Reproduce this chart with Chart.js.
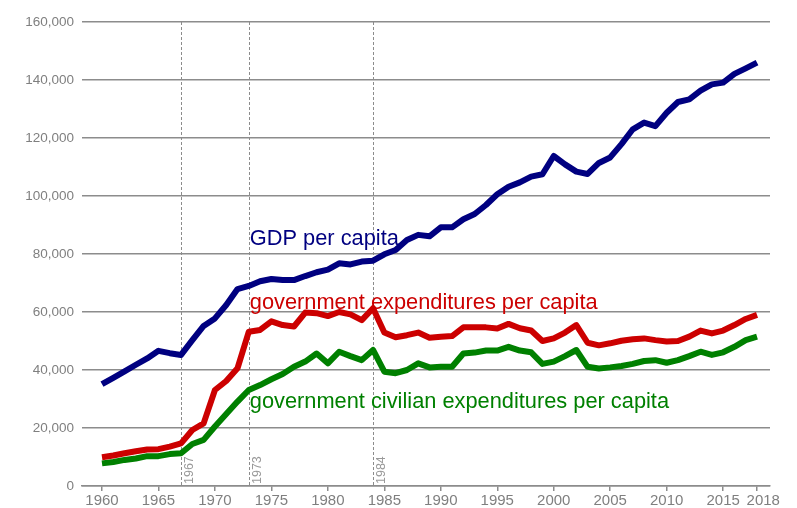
<!doctype html>
<html lang="en">
  <head>
    <meta charset="utf-8">
    <title>GDP and government expenditures per capita</title>
    <style>
      html, body { margin: 0; padding: 0; background: #fff; }
      #wrap { position: relative; width: 797px; height: 508px; }
    </style>
  </head>
  <body>
    <div id="wrap">
      <canvas id="myChart" width="797" height="508"></canvas>
    </div>

    <script src="https://cdn.jsdelivr.net/npm/chart.js"></script>

    <script>
    const years = [];
    for (var yr = 1960; yr <= 2018; yr++) { years.push(yr); }

    const gdp = [
      35100, 37300, 39500, 41800, 44000, 46600, 45800, 45200, 50300, 55200,
      57800, 62400, 67900, 69000, 70600, 71400, 71000, 71000, 72400, 73700,
      74600, 76800, 76400, 77400, 77700, 79900, 81400, 84800, 86600, 86100,
      89200, 89200, 92000, 93800, 96900, 100600, 103200, 104700, 106700, 107500,
      113800, 110900, 108400, 107600, 111400, 113300, 117900, 123000, 125300, 124100,
      128700, 132400, 133300, 136300, 138500, 139100, 142100, 144000, 146000
    ];
    const govExp = [
      9900, 10500, 11300, 12000, 12600, 12700, 13600, 14700, 19300, 21600,
      33100, 36200, 40600, 53200, 53800, 56800, 55500, 55000, 59800, 59600,
      58600, 60000, 59200, 57200, 61300, 52900, 51300, 52000, 52900, 51100,
      51500, 51700, 54700, 54700, 54700, 54300, 55900, 54400, 53600, 50000,
      50900, 52900, 55500, 49400, 48500, 49200, 50100, 50600, 50900, 50300,
      49800, 50000, 51500, 53600, 52600, 53600, 55500, 57600, 59000
    ];
    const govCivExp = [
      7800, 8300, 9000, 9500, 10300, 10300, 11000, 11300, 14500, 15900,
      20500, 24800, 29100, 33100, 34800, 36800, 38600, 41100, 42900, 45700,
      42300, 46300, 44800, 43400, 46900, 39400, 38900, 40000, 42300, 40900,
      41100, 41100, 45700, 46000, 46700, 46700, 48000, 46700, 46100, 42100,
      42900, 44800, 46900, 41100, 40500, 40900, 41400, 42100, 43100, 43400,
      42500, 43400, 44800, 46300, 45200, 46100, 48000, 50300, 51500
    ];

    const xTicks = [1960, 1965, 1970, 1975, 1980, 1985, 1990, 1995, 2000, 2005, 2010, 2015, 2018];
    const eventYears = [1967, 1973, 1984];

    const seriesNames = ['GDP per capita', 'government expenditures per capita', 'government civilian expenditures per capita'];
    const seriesColors = ['#000080', '#cc0000', '#008000'];

    function points(vals) {
      return years.map(function (y, i) { return { x: y, y: vals[i] }; });
    }

    // vertical dashed lines + rotated year labels
    const eventLines = {
      id: 'eventLines',
      beforeDatasetsDraw(chart) {
        const c = chart.ctx, xs = chart.scales.x, area = chart.chartArea;
        c.save();
        eventYears.forEach(function (y) {
          const px = Math.round(xs.getPixelForValue(y)) + 0.5;
          c.strokeStyle = '#8c8c8c';
          c.lineWidth = 1;
          c.setLineDash([3, 2]);
          c.beginPath();
          c.moveTo(px, area.top);
          c.lineTo(px, area.bottom);
          c.stroke();
          c.setLineDash([]);
          c.save();
          c.translate(px + 2, area.bottom - 2);
          c.rotate(-Math.PI / 2);
          c.fillStyle = '#999999';
          c.font = '12.5px "Liberation Sans", Arial, sans-serif';
          c.textAlign = 'left';
          c.textBaseline = 'top';
          c.fillText(String(y), 0, 0);
          c.restore();
        });
        c.restore();
      }
    };

    // series names written next to the lines
    const labelAt = [83100, 61000, 27000];
    const seriesLabels = {
      id: 'seriesLabels',
      afterDatasetsDraw(chart) {
        const c = chart.ctx, xs = chart.scales.x, ys = chart.scales.y;
        c.save();
        c.font = '21.8px "Liberation Sans", Arial, sans-serif';
        c.textAlign = 'left';
        c.textBaseline = 'alphabetic';
        seriesNames.forEach(function (name, i) {
          c.fillStyle = seriesColors[i];
          c.fillText(name, xs.getPixelForValue(1973) + 1, ys.getPixelForValue(labelAt[i]));
        });
        c.restore();
      }
    };

    const ctx = document.getElementById('myChart');

    var chart = new Chart(ctx, {
      type: 'line',
      data: {
        datasets: [
          { label: seriesNames[0], data: points(gdp), borderColor: seriesColors[0] },
          { label: seriesNames[1], data: points(govExp), borderColor: seriesColors[1] },
          { label: seriesNames[2], data: points(govCivExp), borderColor: seriesColors[2] }
        ]
      },
      options: {
        responsive: false,
        animation: false,
        layout: { padding: { top: 22, right: 27, left: 0, bottom: 0 } },
        elements: {
          line: { borderWidth: 6, tension: 0, fill: false, borderJoinStyle: 'round' },
          point: { radius: 0 }
        },
        plugins: {
          legend: { display: false },
          tooltip: { enabled: false }
        },
        scales: {
          x: {
            type: 'linear',
            min: 1958.23,
            max: 2019.15,
            afterBuildTicks: function (axis) {
              axis.ticks = xTicks.map(function (v) { return { value: v }; });
            },
            afterFit: function (axis) { axis.height = 22; },
            ticks: {
              color: '#7f7f7f',
              font: { family: '"Liberation Sans", Arial, sans-serif', size: 15 },
              padding: 1,
              maxRotation: 0,
              autoSkip: false,
              // last label sits a little right of its tick, as in the original
              callback: function (v) { return v === 2018 ? '   2018' : String(v); }
            },
            grid: { drawOnChartArea: false, drawTicks: true, tickLength: 5, color: '#8c8c8c', lineWidth: 1.5 },
            border: { display: true, color: '#8c8c8c', width: 1.5 }
          },
          y: {
            min: 0,
            max: 160000,
            afterFit: function (axis) { axis.width = 82; },
            ticks: {
              stepSize: 20000,
              color: '#7f7f7f',
              padding: 8,
              font: { family: '"Liberation Sans", Arial, sans-serif', size: 13.5 },
              callback: function (v) { return v.toLocaleString('en-US'); }
            },
            grid: { drawTicks: false, color: '#8c8c8c', lineWidth: 1.5 },
            border: { display: false }
          }
        }
      },
      plugins: [eventLines, seriesLabels]
    });
    </script>
  </body>
</html>
